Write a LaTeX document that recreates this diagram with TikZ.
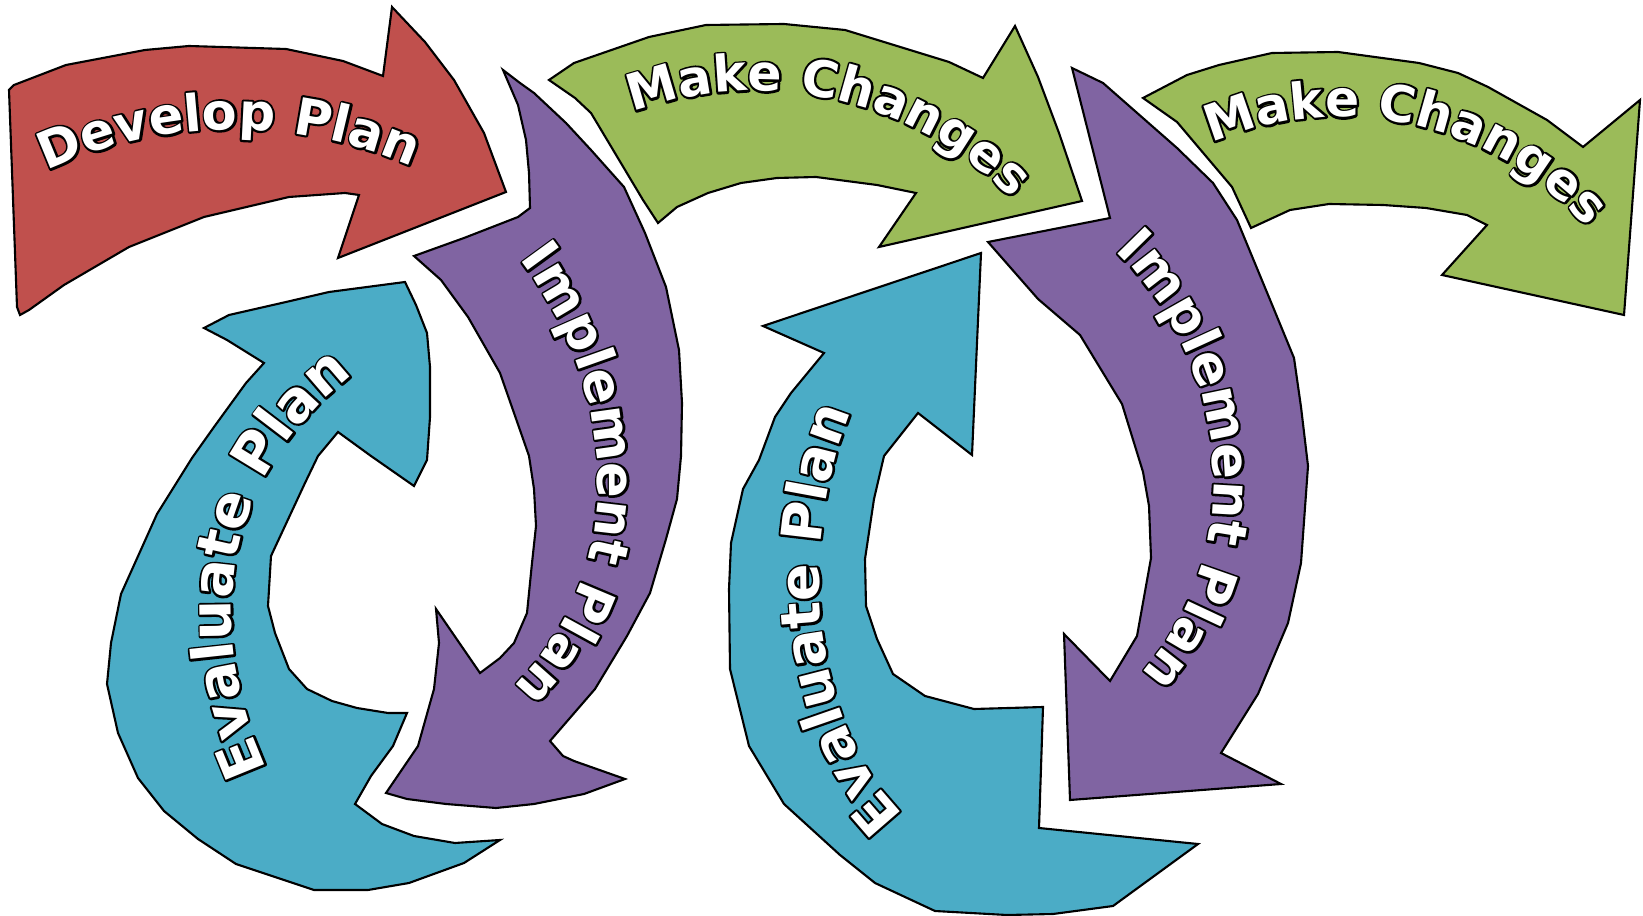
\documentclass[tikz,border=0pt]{standalone}
\usepackage{fontspec}
\usetikzlibrary{decorations.text}

\newfontfamily\bandfont{DejaVu Sans}
\definecolor{devred}{RGB}{192,80,77}
\definecolor{chggreen}{RGB}{155,187,89}
\definecolor{implpurple}{RGB}{128,100,162}
\definecolor{evalteal}{RGB}{75,172,198}
\newcommand\outlined{\color{black}\special{pdf:literal direct 0 G 1.2 w 1 j 2 Tr}}

\tikzset{
    band/.style={draw=black, line width=0.6pt, fill=#1},
    bandtext/.style n args={3}{decorate, decoration={text along path, text align=center,
        text={|\bandfont\bfseries\fontsize{#1}{#1}\selectfont#2|#3}}}
}
\newcommand\bandlabel[3]{%
    \path[bandtext={#1}{\outlined}{#2}] #3;
    \path[bandtext={#1}{\color{white}}{#2}] #3;
}

\begin{document}
\begin{tikzpicture}[x=0.01cm, y=-0.01cm]
    \useasboundingbox (0,0) rectangle (1643,916);

    \draw[band=devred] (9,90) -- (14,85) -- (66,65) -- (145,50) -- (189,46) -- (286,49) -- (343,61) -- (383,76)
        -- (392,7) -- (425,42) -- (454,80) -- (484,133) -- (506,192) -- (338,258) -- (359,195) -- (345,193)
        -- (289,197) -- (204,217) -- (129,247) -- (64,285) -- (29,310) -- (20,315) -- (17,307) -- cycle;

    \draw[band=implpurple] (503,70) -- (518,105) -- (526,140) -- (529,173) -- (530,208) -- (518,217) -- (464,238)
        -- (414,256) -- (441,280) -- (468,317) -- (500,373) -- (521,433) -- (529,456) -- (534,489) -- (536,526)
        -- (532,563) -- (527,613) -- (514,643) -- (500,658) -- (480,673) -- (436,609) -- (439,643) -- (434,689)
        -- (418,746) -- (386,793) -- (407,799) -- (446,804) -- (496,808) -- (534,804) -- (584,794) -- (625,779)
        -- (574,761) -- (563,756) -- (550,741) -- (595,689) -- (627,636) -- (650,593) -- (666,539) -- (677,499)
        -- (681,456) -- (682,403) -- (679,350) -- (666,287) -- (645,233) -- (624,187) -- (591,150) -- (566,123)
        -- (534,93) -- (520,83) -- cycle;

    \draw[band=evalteal] (204,328) -- (229,315) -- (286,302) -- (329,292) -- (405,282) -- (416,305) -- (427,333)
        -- (430,367) -- (430,417) -- (427,460) -- (414,486) -- (371,456) -- (338,432) -- (318,456) -- (305,483)
        -- (271,556) -- (268,606) -- (275,633) -- (289,669) -- (307,689) -- (332,701) -- (357,708) -- (388,713)
        -- (407,713) -- (393,746) -- (371,776) -- (355,804) -- (382,824) -- (414,836) -- (455,843) -- (500,840)
        -- (464,863) -- (409,883) -- (368,890) -- (314,890) -- (236,864) -- (198,839) -- (164,811) -- (138,778)
        -- (118,733) -- (107,684) -- (111,643) -- (121,594) -- (157,514) -- (192,458) -- (214,427) -- (246,383)
        -- (264,363) -- (227,340) -- cycle;

    \draw[band=chggreen] (549,80) -- (574,63) -- (649,37) -- (706,25) -- (784,24) -- (845,30) -- (949,62)
        -- (983,78) -- (1015,26) -- (1038,77) -- (1059,133) -- (1082,201) -- (879,247) -- (916,193) -- (877,185)
        -- (816,177) -- (777,178) -- (741,183) -- (708,193) -- (677,207) -- (658,223) -- (643,200) -- (591,113)
        -- (575,98) -- cycle;

    \draw[band=evalteal] (981,253) -- (763,326) -- (824,353) -- (791,393) -- (775,417) -- (759,460) -- (743,489)
        -- (731,543) -- (729,589) -- (730,669) -- (749,746) -- (784,804) -- (840,855) -- (875,883) -- (935,911)
        -- (1007,915) -- (1053,914) -- (1113,906) -- (1198,844) -- (1039,828) -- (1043,707) -- (974,709)
        -- (925,696) -- (893,674) -- (877,639) -- (866,606) -- (865,559) -- (874,499) -- (884,456) -- (899,437)
        -- (918,413) -- (972,455) -- cycle;

    \draw[band=implpurple] (1072,68) -- (1110,218) -- (988,242) -- (1038,299) -- (1080,335) -- (1122,404)
        -- (1143,472) -- (1149,506) -- (1151,558) -- (1137,636) -- (1110,681) -- (1064,634) -- (1070,800)
        -- (1281,784) -- (1221,753) -- (1258,694) -- (1288,623) -- (1301,563) -- (1308,466) -- (1301,407)
        -- (1294,358) -- (1273,307) -- (1237,220) -- (1213,183) -- (1177,148) -- (1103,83) -- cycle;

    \draw[band=chggreen] (1143,98) -- (1187,75) -- (1219,65) -- (1272,53) -- (1338,52) -- (1419,63) -- (1458,73)
        -- (1488,87) -- (1547,120) -- (1583,147) -- (1640,100) -- (1624,315) -- (1442,275) -- (1487,225)
        -- (1467,215) -- (1426,208) -- (1383,205) -- (1329,204) -- (1290,210) -- (1251,228) -- (1232,187)
        -- (1177,122) -- cycle;

    \bandlabel{14.5pt}{Develop Plan}{(20,185) .. controls (150,112) and (310,112) .. (440,180)}
    \bandlabel{14.3pt}{Make Changes}{(595,130) .. controls (715,65) and (910,70) .. (1040,230)}
    \bandlabel{14.3pt}{Make Changes}{(1180,160) .. controls (1295,90) and (1490,95) .. (1610,255)}
    \bandlabel{15pt}{Implement Plan}{(475,210) .. controls (630,355) and (652,605) .. (462,728)}
    \bandlabel{15pt}{Implement Plan}{(1062,210) .. controls (1240,320) and (1275,585) .. (1092,718)}
    \bandlabel{16.2pt}{Evaluate Plan}{(282,798) .. controls (202,655) and (205,470) .. (380,356)}
    \bandlabel{15.8pt}{Evaluate Plan}{(936,840) .. controls (800,755) and (790,510) .. (870,375)}
\end{tikzpicture}
\end{document}
